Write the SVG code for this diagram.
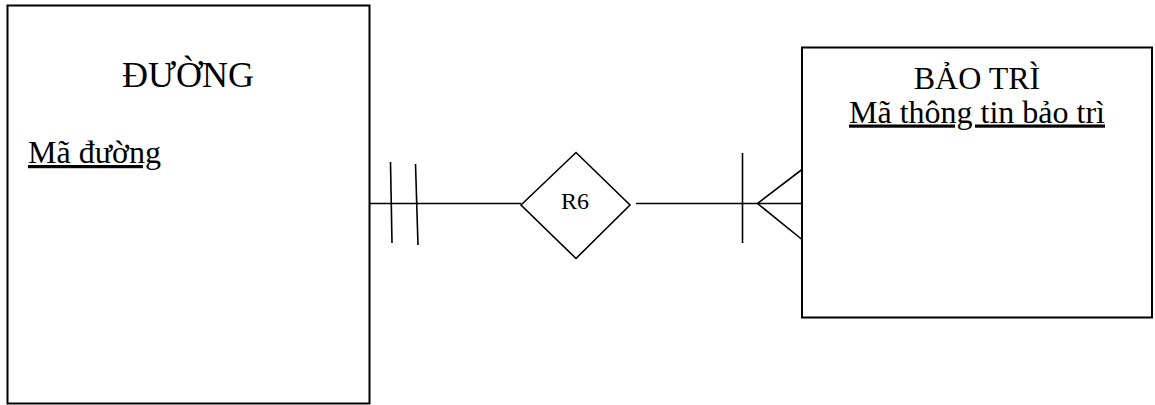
<svg xmlns="http://www.w3.org/2000/svg" width="1155" height="405" viewBox="0 0 1155 405">
<style>
.ent{fill:#fff;stroke:#000;stroke-width:2}
.rel{fill:#fff;stroke:#000;stroke-width:1.6}
.ln{fill:none;stroke:#000;stroke-width:1.6}
text{font-family:"Liberation Serif","Times New Roman",serif;fill:#000}
.u{text-decoration:underline}
</style>
<rect width="1155" height="405" fill="#fff"/>
<g id="connectors">
<line class="ln" x1="369" y1="203.5" x2="521" y2="203.5"/>
<line class="ln" x1="390.5" y1="162" x2="392" y2="243"/>
<line class="ln" x1="415.5" y1="164" x2="418" y2="245"/>
<line class="ln" x1="636" y1="203.5" x2="802" y2="203.5"/>
<line class="ln" x1="742.5" y1="153" x2="742.5" y2="243"/>
<polyline class="ln" points="802,169.5 757.5,203.5 802,239.5"/>
</g>
<g id="duong">
<rect class="ent" x="7.5" y="5.5" width="362" height="398"/>
<text x="188" y="87" font-size="36" text-anchor="middle">ĐƯỜNG</text>
<text x="28" y="163" font-size="32" class="u">Mã đường</text>
</g>
<g id="r6">
<polygon class="rel" points="521,205 576,152.5 630,205 576,258.5"/>
<text x="575" y="209" font-size="24" text-anchor="middle">R6</text>
</g>
<g id="baotri">
<rect class="ent" x="802" y="47.5" width="350" height="270"/>
<text x="977" y="89" font-size="32" text-anchor="middle">BẢO TRÌ</text>
<text x="977" y="122.5" font-size="32" text-anchor="middle" class="u">Mã thông tin bảo trì</text>
</g>
</svg>
